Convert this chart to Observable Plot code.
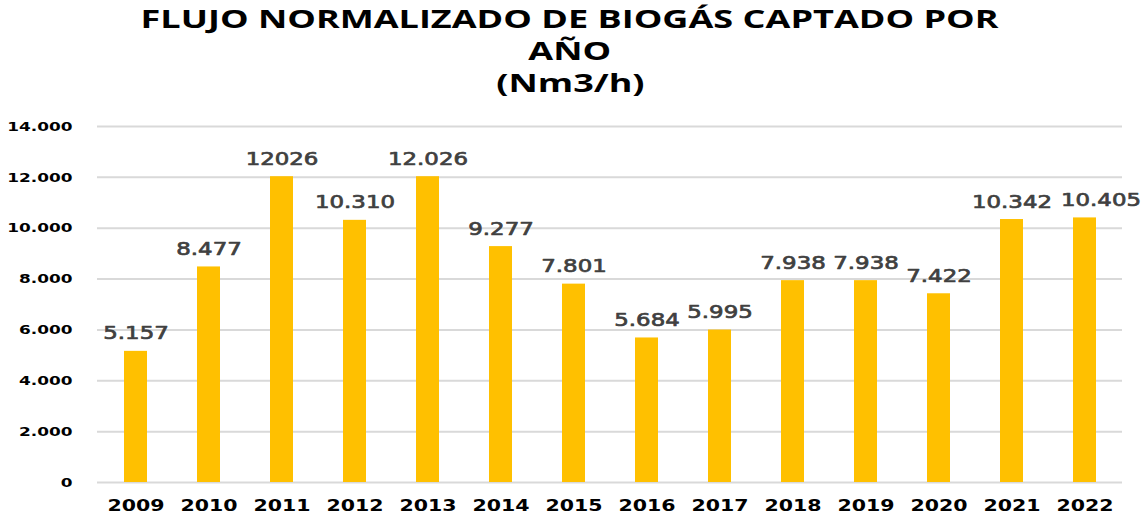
<!DOCTYPE html>
<html>
<head>
<meta charset="utf-8">
<script src="https://cdn.jsdelivr.net/npm/d3@7"></script>
<script src="https://cdn.jsdelivr.net/npm/@observablehq/plot@0.6"></script>
<style>
  html, body { margin: 0; padding: 0; background: #fff; }
  #title {
    width: 1146px; height: 110px; box-sizing: border-box; padding-top: 2px; padding-right: 6px;
    text-align: center; font-family: "Open Sans", Lato, sans-serif; font-weight: 700;
    font-size: 25px; line-height: 32px; color: #000; overflow: visible;
  }
  #title span { display: inline-block; white-space: nowrap; transform-origin: center; }
  #chart svg { display: block; }
</style>
</head>
<body>
<div id="title"></div>
<div id="chart"></div>
<script>
const titleLines = ["FLUJO NORMALIZADO DE BIOGÁS CAPTADO POR", "AÑO", "(Nm3/h)"];
const years = ["2009","2010","2011","2012","2013","2014","2015","2016","2017","2018","2019","2020","2021","2022"];
const values = [5157, 8477, 12026, 10310, 12026, 9277, 7801, 5684, 5995, 7938, 7938, 7422, 10342, 10405];
const valueLabels = ["5.157","8.477","12026","10.310","12.026","9.277","7.801","5.684","5.995","7.938","7.938","7.422","10.342","10.405"];
const yTicks = [0, 2000, 4000, 6000, 8000, 10000, 12000, 14000];
const yTickLabels = ["0","2.000","4.000","6.000","8.000","10.000","12.000","14.000"];

// Title
const titleEl = document.getElementById("title");
const spans = titleLines.map(t => {
  const d = document.createElement("div");
  const s = document.createElement("span");
  s.textContent = t;
  d.appendChild(s);
  titleEl.appendChild(d);
  return s;
});
const kTitle = 858 / spans[0].getBoundingClientRect().width;
spans.forEach(s => s.style.transform = `scaleX(${kTitle})`);

const data = years.map((y, i) => ({year: y, value: values[i], label: valueLabels[i]}));
const lastYear = years[years.length - 1];
const labelStyle = {x: "year", y: "value", text: "label", dy: -12, lineAnchor: "bottom",
  fontSize: 18, fill: "#404040", stroke: "#404040", strokeWidth: 0.7};

const svg = Plot.plot({
  width: 1146,
  height: 406,
  marginTop: 16,
  marginBottom: 34,
  marginLeft: 97,
  marginRight: 24,
  style: {fontFamily: "'DejaVu Sans', Verdana, sans-serif", background: "#fff", color: "#000"},
  x: {domain: years, paddingInner: 0.69, paddingOuter: 0.345, label: null},
  y: {domain: [0, 14000], label: null},
  marks: [
    Plot.gridY(yTicks, {stroke: "#d9d9d9", strokeOpacity: 1, strokeWidth: 2}),
    Plot.barY(data, {x: "year", y: "value", fill: "#FFC000"}),
    Plot.text(data, {...labelStyle, filter: d => d.year !== lastYear}),
    Plot.text(data, {...labelStyle, filter: d => d.year === lastYear, dx: 16}),
    Plot.axisY(yTicks, {tickSize: 0, tickPadding: 25, fontSize: 13, fontWeight: "bold", fill: "#000",
      tickFormat: d => yTickLabels[yTicks.indexOf(d)], label: null}),
    Plot.axisX({tickSize: 0, tickPadding: 17, fontSize: 16, fontWeight: "bold", fill: "#000", label: null})
  ]
});
document.getElementById("chart").appendChild(svg);

function stretch(selector, k) {
  svg.querySelectorAll(selector).forEach(t => {
    const w = t.getComputedTextLength();
    t.setAttribute("textLength", w * k);
    t.setAttribute("lengthAdjust", "spacingAndGlyphs");
  });
}
stretch('g[aria-label="y-axis tick label"] text', 1.3);
stretch('g[aria-label="x-axis tick label"] text', 1.28);
stretch('g[aria-label="text"] text', 1.27);
</script>
</body>
</html>
